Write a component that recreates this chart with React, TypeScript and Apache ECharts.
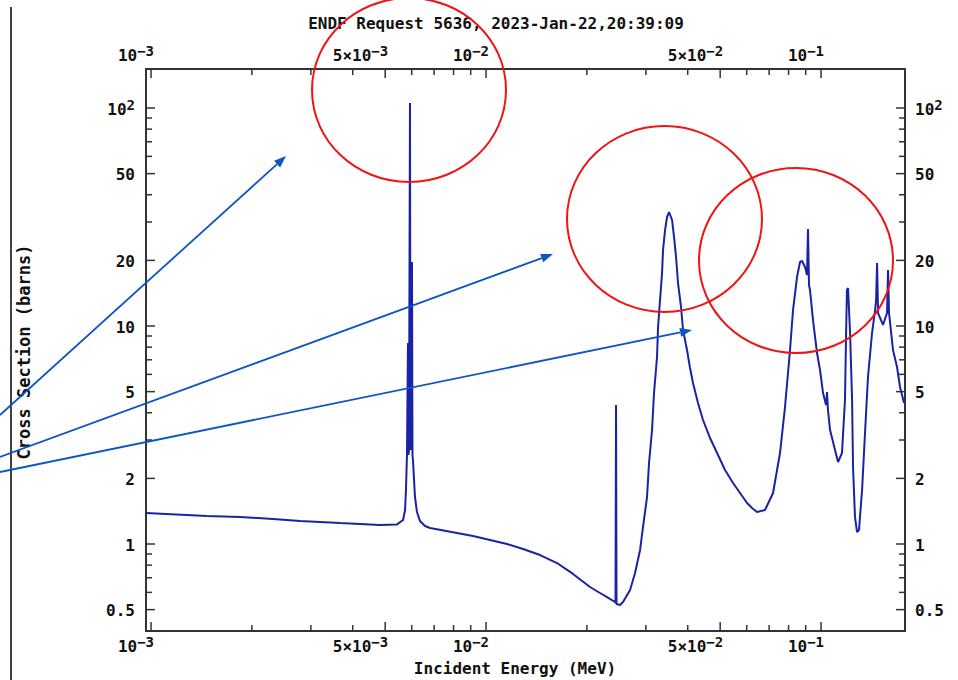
import React, { useEffect, useRef } from "react";
import * as echarts from "echarts";

const TITLE = "ENDF Request 5636, 2023-Jan-22,20:39:09";
const X_NAME = "Incident Energy (MeV)";
const Y_NAME = "Cross Section (barns)";

// Incident energy (MeV) and cross section (barns)
const energyMeV = [
  0.000966, 0.001469, 0.001844, 0.002313, 0.002785, 0.003666, 0.004826, 0.005425,
  0.005653, 0.005732, 0.005768, 0.005808, 0.005848, 0.005868, 0.005888, 0.005929,
  0.005949, 0.00597, 0.006011, 0.006032, 0.006052, 0.006136, 0.006221, 0.006351,
  0.006575, 0.006806, 0.00819, 0.009146, 0.01028, 0.01155, 0.0129, 0.0145,
  0.01629, 0.01818, 0.02044, 0.02189, 0.02297, 0.02427, 0.02435, 0.02444,
  0.02452, 0.02512, 0.02564, 0.02691, 0.02785, 0.02883, 0.02942, 0.03024,
  0.03066, 0.0313, 0.03173, 0.03239, 0.03262, 0.03307, 0.03353, 0.03376,
  0.03423, 0.0347, 0.03518, 0.03592, 0.03641, 0.03692, 0.03742, 0.03821,
  0.03873, 0.03981, 0.04064, 0.04148, 0.04293, 0.04444, 0.04663, 0.04894,
  0.05169, 0.05462, 0.05731, 0.06014, 0.06223, 0.06442, 0.06805, 0.07191,
  0.07544, 0.07807, 0.08081, 0.08249, 0.08479, 0.08656, 0.08775, 0.08957,
  0.09081, 0.09143, 0.09207, 0.0927, 0.09464, 0.09729, 0.09932, 0.1014,
  0.1035, 0.1042, 0.1049, 0.1064, 0.1101, 0.1124, 0.1155, 0.1179,
  0.1187, 0.1195, 0.1204, 0.1221, 0.1238, 0.1246, 0.1263, 0.1281,
  0.1298, 0.1326, 0.1353, 0.1381, 0.142, 0.145, 0.146, 0.147,
  0.148, 0.1531, 0.1574, 0.1585, 0.1596, 0.164, 0.1686, 0.1721,
  0.1769,
];
const crossSectionBarns = [
  1.388, 1.344, 1.33, 1.302, 1.275, 1.248, 1.222, 1.23,
  1.288, 1.432, 1.769, 2.561, 8.356, 2.561, 2.699, 105.4,
  2.699, 2.699, 19.66, 2.561, 2.428, 1.643, 1.402, 1.275,
  1.209, 1.184, 1.123, 1.088, 1.043, 1.0, 0.949, 0.89,
  0.818, 0.729, 0.635, 0.596, 0.571, 0.542, 0.536, 4.341,
  0.531, 0.525, 0.542, 0.615, 0.736, 0.939, 1.197, 1.643,
  2.353, 3.334, 4.928, 7.208, 9.89, 13.16, 17.51, 22.32,
  27.56, 31.62, 33.34, 30.64, 25.6, 20.73, 15.75, 12.22,
  9.587, 7.762, 6.418, 5.477, 4.434, 3.706, 3.063, 2.615,
  2.185, 1.905, 1.714, 1.542, 1.463, 1.402, 1.432, 1.714,
  2.615, 4.25, 7.762, 11.84, 16.78, 19.66, 19.87, 18.65,
  17.13, 27.86, 15.42, 14.63, 10.65, 7.518, 6.284, 4.928,
  4.341, 4.98, 4.119, 3.334, 2.699, 2.377, 2.615, 4.576,
  8.626, 14.63, 14.94, 9.288, 4.576, 2.256, 1.33, 1.135,
  1.159, 1.769, 3.23, 5.835, 9.288, 11.84, 13.16, 19.45,
  11.47, 10.11, 11.47, 18.07, 11.47, 7.762, 6.485, 5.251,
  4.434,
];

const xMajorTicks = [0.001, 0.005, 0.01, 0.05, 0.1];
const xLabelBase = ["10", "5×10", "10", "5×10", "10"];
const xLabelExp = ["−3", "−3", "−2", "−2", "−1"];
const xMinorTicks = [0.002, 0.003, 0.004, 0.006, 0.007, 0.008, 0.009, 0.02, 0.03, 0.04, 0.06, 0.07, 0.08, 0.09];
const yMajorTicks = [100, 50, 20, 10, 5, 2, 1, 0.5];
const yLabelBase = ["10", "50", "20", "10", "5", "2", "1", "0.5"];
const yLabelExp = ["2", "", "", "", "", "", "", ""];
const yMinorTicks = [90, 80, 70, 60, 40, 30, 9, 8, 7, 6, 4, 3, 0.9, 0.8, 0.7, 0.6];

const X_MIN = 0.000966;
const X_MAX = 0.1781;
const Y_MIN = 0.399;
const Y_MAX = 151;

// Annotation overlay (pixel positions)
const circles = [
  { cx: 409, cy: 90, rx: 97, ry: 92 },
  { cx: 664.5, cy: 219, rx: 97.5, ry: 93 },
  { cx: 796, cy: 260.5, rx: 97, ry: 92.5 },
];
const arrows = [
  { x1: 0, y1: 415, x2: 286, y2: 156 },
  { x1: 0, y1: 457, x2: 553, y2: 254 },
  { x1: 0, y1: 472, x2: 692, y2: 330 },
];

const FONT_FAMILY = '"DejaVu Sans Mono", "Liberation Mono", monospace';
const FONT = `bold 16px ${FONT_FAMILY}`;
const AXIS_COLOR = "#333333";
const TEXT_COLOR = "#111111";
const DATA_COLOR = "#1a22a6";
const ARROW_COLOR = "#0e55c2";
const CIRCLE_COLOR = "#ee1515";

const RICH = {
  a: { fontSize: 16, fontWeight: "bold", fontFamily: FONT_FAMILY, fill: TEXT_COLOR, lineHeight: 22 },
  s: { fontSize: 14, fontWeight: "bold", fontFamily: FONT_FAMILY, fill: TEXT_COLOR, lineHeight: 11, verticalAlign: "top" },
};

function richLabel(base: string, exp: string) {
  return exp ? `{a|${base}}{s|${exp}}` : `{a|${base}}`;
}

function arrowGraphics() {
  const out: any[] = [];
  arrows.forEach((a) => {
    const dx = a.x2 - a.x1;
    const dy = a.y2 - a.y1;
    const L = Math.sqrt(dx * dx + dy * dy);
    const ux = dx / L;
    const uy = dy / L;
    const hl = 12;
    const hw = 4.5;
    const bx = a.x2 - ux * hl;
    const by = a.y2 - uy * hl;
    out.push({
      type: "line",
      shape: { x1: a.x1, y1: a.y1, x2: bx, y2: by },
      style: { stroke: ARROW_COLOR, lineWidth: 1.8 },
      z: 10,
    });
    out.push({
      type: "polygon",
      shape: {
        points: [
          [a.x2, a.y2],
          [bx - uy * hw, by + ux * hw],
          [bx + uy * hw, by - ux * hw],
        ],
      },
      style: { fill: ARROW_COLOR },
      z: 10,
    });
  });
  return out;
}

export default function App() {
  const ref = useRef<HTMLDivElement>(null);

  useEffect(() => {
    if (!ref.current) return;
    const chart = echarts.init(ref.current, undefined, { renderer: "svg" });

    const xTickData = [...xMajorTicks, ...xMinorTicks].map((v) => [v, 1]);
    const yTickData = [...yMajorTicks, ...yMinorTicks].map((v) => [0.01, v]);

    const option: any = {
      animation: false,
      backgroundColor: "#ffffff",
      grid: {
        left: 146,
        top: 69,
        right: 53,
        bottom: 49,
        show: true,
        borderColor: AXIS_COLOR,
        borderWidth: 2,
        backgroundColor: "transparent",
      },
      xAxis: {
        type: "log",
        logBase: 10,
        min: X_MIN,
        max: X_MAX,
        axisLine: { show: false },
        axisTick: { show: false },
        axisLabel: { show: false },
        splitLine: { show: false },
      },
      yAxis: {
        type: "log",
        logBase: 10,
        min: Y_MIN,
        max: Y_MAX,
        axisLine: { show: false },
        axisTick: { show: false },
        axisLabel: { show: false },
        splitLine: { show: false },
      },
      series: [
        {
          type: "line",
          data: energyMeV.map((e, i) => [e, crossSectionBarns[i]]),
          showSymbol: false,
          symbol: "none",
          lineStyle: { color: DATA_COLOR, width: 2 },
          clip: true,
          z: 5,
        },
        {
          type: "custom",
          silent: true,
          clip: false,
          data: xTickData,
          renderItem: (params: any, api: any) => {
            const i = params.dataIndex;
            const major = i < xMajorTicks.length;
            const cs = params.coordSys;
            const px = api.coord([api.value(0), 1])[0];
            const top = cs.y;
            const bot = cs.y + cs.height;
            const len = major ? 9 : 6;
            const children: any[] = [
              { type: "line", shape: { x1: px, y1: top, x2: px, y2: top + len }, style: { stroke: AXIS_COLOR, lineWidth: 1.5 } },
              { type: "line", shape: { x1: px, y1: bot, x2: px, y2: bot - len }, style: { stroke: AXIS_COLOR, lineWidth: 1.5 } },
            ];
            if (major) {
              const text = richLabel(xLabelBase[i], xLabelExp[i]);
              children.push({
                type: "text",
                x: px + 3,
                y: top - 14,
                style: { text, rich: RICH, align: "right", verticalAlign: "middle" },
              });
              children.push({
                type: "text",
                x: px + 3,
                y: bot + 15,
                style: { text, rich: RICH, align: "right", verticalAlign: "middle" },
              });
            }
            return { type: "group", children };
          },
        },
        {
          type: "custom",
          silent: true,
          clip: false,
          data: yTickData,
          renderItem: (params: any, api: any) => {
            const i = params.dataIndex;
            const major = i < yMajorTicks.length;
            const cs = params.coordSys;
            const py = api.coord([0.01, api.value(1)])[1];
            const left = cs.x;
            const right = cs.x + cs.width;
            const len = major ? 9 : 6;
            const children: any[] = [
              { type: "line", shape: { x1: left, y1: py, x2: left + len, y2: py }, style: { stroke: AXIS_COLOR, lineWidth: 1.5 } },
              { type: "line", shape: { x1: right, y1: py, x2: right - len, y2: py }, style: { stroke: AXIS_COLOR, lineWidth: 1.5 } },
            ];
            if (major) {
              const text = richLabel(yLabelBase[i], yLabelExp[i]);
              children.push({
                type: "text",
                x: left - 11,
                y: py + 1,
                style: { text, rich: RICH, align: "right", verticalAlign: "middle" },
              });
              children.push({
                type: "text",
                x: right + 10,
                y: py + 1,
                style: { text, rich: RICH, align: "left", verticalAlign: "middle" },
              });
            }
            return { type: "group", children };
          },
        },
      ],
      graphic: [
        {
          type: "line",
          shape: { x1: 11, y1: 7, x2: 11, y2: 680 },
          style: { stroke: "#000000", lineWidth: 1.5 },
          z: 1,
        },
        {
          type: "text",
          x: 496,
          y: 23,
          style: { text: TITLE, font: FONT, fill: TEXT_COLOR, align: "center", verticalAlign: "middle" },
        },
        {
          type: "text",
          x: 515,
          y: 668,
          style: { text: X_NAME, font: FONT, fill: TEXT_COLOR, align: "center", verticalAlign: "middle" },
        },
        {
          type: "text",
          x: 24,
          y: 352,
          rotation: Math.PI / 2,
          style: { text: Y_NAME, font: `bold 17px ${FONT_FAMILY}`, fill: TEXT_COLOR, align: "center", verticalAlign: "middle" },
        },
        ...circles.map((c) => ({
          type: "ellipse",
          shape: { cx: c.cx, cy: c.cy, rx: c.rx, ry: c.ry },
          style: { stroke: CIRCLE_COLOR, lineWidth: 2, fill: "none" },
          z: 10,
        })),
        ...arrowGraphics(),
      ],
    };

    chart.setOption(option);
    return () => {
      chart.dispose();
    };
  }, []);

  return (
    <div
      ref={ref}
      style={{ position: "fixed", left: 0, top: 0, width: 958, height: 680, background: "#fff" }}
    />
  );
}
